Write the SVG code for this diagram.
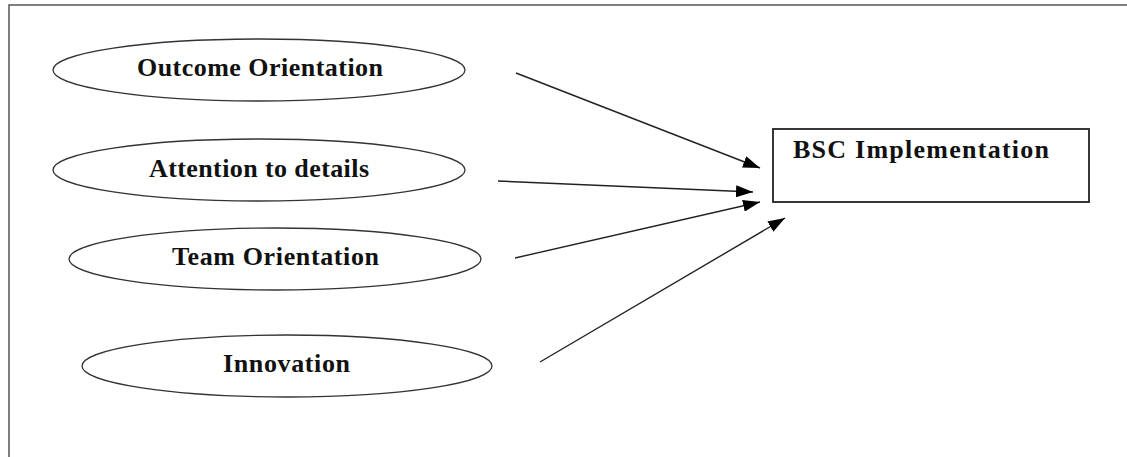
<svg xmlns="http://www.w3.org/2000/svg" width="1127" height="457" viewBox="0 0 1127 457">
<style>
.node ellipse{fill:#fff;stroke:#333;stroke-width:1.3}
.node rect{fill:#fff;stroke:#222;stroke-width:1.8}
.lbl{font-family:"Liberation Serif","Times New Roman",serif;font-weight:bold;font-size:26px;fill:#111}
.edge{stroke:#222;stroke-width:1.4;fill:none;marker-end:url(#ah)}
.frame{stroke:#555;stroke-width:1.5;fill:none}
</style>
<defs>
<marker id="ah" viewBox="0 0 17 12" refX="17" refY="6" markerWidth="17" markerHeight="12" markerUnits="userSpaceOnUse" orient="auto">
<path d="M0,0 L17,6 L0,12 Z" fill="#000"/>
</marker>
</defs>
<rect width="1127" height="457" fill="#fff"/>
<path class="frame" d="M9,457 L9,5 L1127,5"/>
<g id="outcome" class="node">
<ellipse cx="259" cy="70" rx="206" ry="31"/>
<text class="lbl" x="137" y="76" textLength="246" lengthAdjust="spacing">Outcome Orientation</text>
</g>
<g id="attention" class="node">
<ellipse cx="259" cy="170" rx="206" ry="31"/>
<text class="lbl" x="149" y="177" textLength="220" lengthAdjust="spacing">Attention to details</text>
</g>
<g id="team" class="node">
<ellipse cx="275" cy="259" rx="206" ry="31"/>
<text class="lbl" x="172" y="265" textLength="207" lengthAdjust="spacing">Team Orientation</text>
</g>
<g id="innovation" class="node">
<ellipse cx="287" cy="366" rx="205" ry="31"/>
<text class="lbl" x="223" y="372" textLength="127" lengthAdjust="spacing">Innovation</text>
</g>
<g id="bsc" class="node">
<rect x="773" y="129" width="316" height="73"/>
<text class="lbl" x="793" y="158" textLength="256" lengthAdjust="spacing">BSC Implementation</text>
</g>
<g id="connectors">
<line class="edge" x1="516" y1="73" x2="760" y2="168"/>
<line class="edge" x1="498" y1="181" x2="753" y2="192"/>
<line class="edge" x1="515" y1="258" x2="760" y2="202"/>
<line class="edge" x1="540" y1="362" x2="785" y2="218"/>
</g>
</svg>
